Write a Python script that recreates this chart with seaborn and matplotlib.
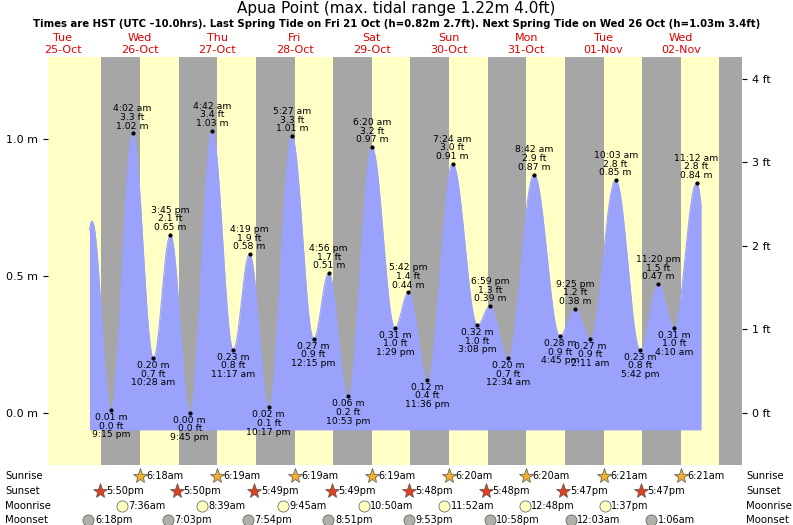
import numpy as np
import pandas as pd
import matplotlib
matplotlib.use("Agg")
import matplotlib.pyplot as plt
import matplotlib.transforms as mtrans
import seaborn as sns

# hours from 25-Oct 00:00 HST
ext_h = [15.4, 21.25, 28.03, 34.47, 39.75, 45.75, 52.70, 59.28, 64.32, 70.28, 77.45, 84.25, 88.93, 94.88,
         102.33, 109.48, 113.70, 119.60, 127.40, 135.13, 138.98, 144.57, 152.70, 160.75, 165.42, 170.18,
         178.05, 185.70, 191.33, 196.17, 203.20, 209.5]
ext_m = [0.70, 0.01, 1.02, 0.20, 0.65, 0.00, 1.03, 0.23, 0.58, 0.02, 1.01, 0.27, 0.51, 0.06,
         0.97, 0.31, 0.44, 0.12, 0.91, 0.32, 0.39, 0.20, 0.87, 0.28, 0.38, 0.27,
         0.85, 0.23, 0.47, 0.31, 0.84, 0.10]
ext_ft = ["", "0.0", "3.3", "0.7", "2.1", "0.0", "3.4", "0.8", "1.9", "0.1", "3.3", "0.9", "1.7", "0.2",
          "3.2", "1.0", "1.4", "0.4", "3.0", "1.0", "1.3", "0.7", "2.9", "0.9", "1.2", "0.9",
          "2.8", "0.8", "1.5", "1.0", "2.8", ""]
ext_t = ["", "9:15 pm", "4:02 am", "10:28 am", "3:45 pm", "9:45 pm", "4:42 am", "11:17 am", "4:19 pm", "10:17 pm",
         "5:27 am", "12:15 pm", "4:56 pm", "10:53 pm", "6:20 am", "1:29 pm", "5:42 pm", "11:36 pm",
         "7:24 am", "3:08 pm", "6:59 pm", "12:34 am", "8:42 am", "4:45 pm", "9:25 pm", "2:11 am",
         "10:03 am", "5:42 pm", "11:20 pm", "4:10 am", "11:12 am", ""]
curve_start, curve_end = 14.6, 204.6

sunrise_h = [6.3, 30.3, 54.32, 78.32, 102.32, 126.33, 150.33, 174.35, 198.35]
sunrise_lbl = ["", "6:18am", "6:19am", "6:19am", "6:19am", "6:20am", "6:20am", "6:21am", "6:21am"]
sunset_h = [17.83, 41.83, 65.82, 89.82, 113.8, 137.8, 161.78, 185.78, 209.78]
sunset_lbl = ["5:50pm", "5:50pm", "5:49pm", "5:49pm", "5:48pm", "5:48pm", "5:47pm", "5:47pm", ""]
moonrise_h = [31.6, 56.65, 81.75, 106.83, 131.87, 156.8, 181.62]
moonrise_lbl = ["7:36am", "8:39am", "9:45am", "10:50am", "11:52am", "12:48pm", "1:37pm"]
moonset_h = [18.3, 43.05, 67.9, 92.85, 117.88, 142.97, 168.05, 193.1]
moonset_lbl = ["6:18pm", "7:03pm", "7:54pm", "8:51pm", "9:53pm", "10:58pm", "12:03am", "1:06am"]

day_names = ["Tue", "Wed", "Thu", "Fri", "Sat", "Sun", "Mon", "Tue", "Wed"]
day_dates = ["25-Oct", "26-Oct", "27-Oct", "28-Oct", "29-Oct", "30-Oct", "31-Oct", "01-Nov", "02-Nov"]

# cosine-shaped tide curve between extremes
hh = np.linspace(curve_start, curve_end, 1500)
vals = []
for t in hh:
    i = np.searchsorted(ext_h, t) - 1
    i = max(0, min(i, len(ext_h) - 2))
    f = (t - ext_h[i]) / (ext_h[i + 1] - ext_h[i])
    vals.append(ext_m[i] + (ext_m[i + 1] - ext_m[i]) * (1 - np.cos(np.pi * f)) / 2)
df = pd.DataFrame({"h": hh, "m": vals})

fig = plt.figure(figsize=(7.93, 5.25), dpi=100)
ax = fig.add_axes([48 / 793, 60 / 525, 694 / 793, 408 / 525])
xmin, xmax = 1.73, 217.3
ax.set_xlim(xmin, xmax)
ax.set_ylim(-0.19, 1.299)
ax.axvspan(xmin, xmax, color="#ffffc6", zorder=0)
for s, r in zip(sunset_h, sunrise_h[1:] + [235]):
    ax.axvspan(s + 0.5, r, color="#a6a6a6", zorder=0.5, lw=0)

ax.fill_between(df["h"], -0.062, df["m"], color="#9aa2fc", lw=0, zorder=1)
sns.lineplot(data=df, x="h", y="m", ax=ax, color="#9aa2fc", lw=0.8, zorder=1)

fs = 6.7
for k, (h, m, ft, t) in enumerate(zip(ext_h, ext_m, ext_ft, ext_t)):
    if not t:
        continue
    ax.plot(h, m, "o", ms=2, color="black", zorder=3)
    is_high = ext_m[k - 1] < m
    if is_high:
        ax.annotate(f"{t}\n{ft} ft\n{m:.2f} m", (h, m), xytext=(0, 2), textcoords="offset points",
                    ha="center", va="bottom", fontsize=fs, linespacing=0.95, zorder=4)
    else:
        ax.annotate(f"{m:.2f} m\n{ft} ft\n{t}", (h, m), xytext=(0, -2), textcoords="offset points",
                    ha="center", va="top", fontsize=fs, linespacing=0.95, zorder=4)

ax.set_yticks([0.0, 0.5, 1.0])
ax.set_yticklabels(["0.0 m", "0.5 m", "1.0 m"], fontsize=8)
ax.set_xticks([])
ax.set_xlabel("")
ax.set_ylabel("")
for sp in ax.spines.values():
    sp.set_visible(False)
ax2 = ax.twinx()
ax2.set_ylim(-0.19 / 0.3048, 1.299 / 0.3048)
ax2.set_yticks([0, 1, 2, 3, 4])
ax2.set_yticklabels(["0 ft", "1 ft", "2 ft", "3 ft", "4 ft"], fontsize=8)
for sp in ax2.spines.values():
    sp.set_visible(False)

fig.text(0.5, 1 - 9 / 525, "Apua Point (max. tidal range 1.22m 4.0ft)", ha="center", va="center", fontsize=11)
fig.text(0.5, 1 - 24 / 525, "Times are HST (UTC \u201310.0hrs). Last Spring Tide on Fri 21 Oct (h=0.82m 2.7ft). Next Spring Tide on Wed 26 Oct (h=1.03m 3.4ft)",
         ha="center", va="center", fontsize=7.3, fontweight="bold")
bt = mtrans.blended_transform_factory(ax.transData, fig.transFigure)
for i, (dn, dd) in enumerate(zip(day_names, day_dates)):
    x = 6.3 + 24 * i
    fig.text(x, 1 - 38 / 525, dn, transform=bt, ha="center", va="center", fontsize=8, color="#dd0000")
    fig.text(x, 1 - 50 / 525, dd, transform=bt, ha="center", va="center", fontsize=8, color="#dd0000")

rows = [("Sunrise", 476), ("Sunset", 491), ("Moonrise", 506), ("Moonset", 520)]
for name, y in rows:
    fig.text(5 / 793, 1 - y / 525, name, ha="left", va="center", fontsize=7.3)
    fig.text(746 / 793, 1 - y / 525, name, ha="left", va="center", fontsize=7.3)

def row(hs, lbls, y, marker, color, ms, dx):
    for h, l in zip(hs, lbls):
        if not l:
            continue
        xx = h + dx
        fig.lines.append(plt.Line2D([xx], [1 - y / 525], transform=bt, marker=marker, ms=ms,
                                    mfc=color, mec="#555555", mew=0.5, ls=""))
        fig.text(xx + 2.0, 1 - y / 525, l, transform=bt, ha="left", va="center", fontsize=7)

row(sunrise_h, sunrise_lbl, 476, "*", "#f0b030", 11, 0)
row(sunset_h, sunset_lbl, 491, "*", "#e04020", 11, 0)
row(moonrise_h, moonrise_lbl, 506, "o", "#ffffc0", 8, -7)
row(moonset_h, moonset_lbl, 520, "o", "#b0b0a8", 8, -4)

fig.savefig("out.png", dpi=100)
